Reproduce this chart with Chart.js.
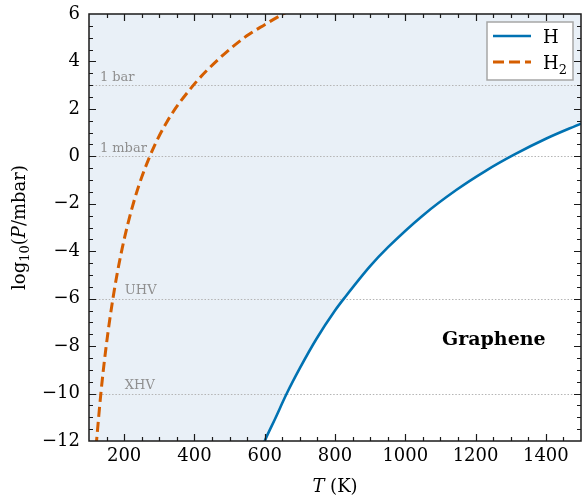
<!DOCTYPE html>
<html><head><meta charset="utf-8">
<script src="https://cdn.jsdelivr.net/npm/chart.js@4/dist/chart.umd.min.js"></script>
<style>html,body{margin:0;padding:0;background:#fff}#wrap{width:582px;height:496px}</style>
</head><body><div id="wrap"><canvas id="c" width="582" height="496"></canvas></div>
<script>
// ---- data ----
const hTemps  = [590, 600, 630, 662, 700, 747, 800, 828, 900, 951, 1050, 1145, 1230, 1311, 1400, 1500];
const hLogP   = [-12.38, -12, -11.05, -10.02, -8.93, -7.7, -6.5, -5.95, -4.63, -3.83, -2.49, -1.42, -0.6, 0.08, 0.74, 1.38];
const h2Temps = [120, 134, 148, 168, 194, 230, 273, 322, 396, 472, 549, 600, 652, 700];
const h2LogP  = [-12.24, -9.96, -8.11, -6, -3.91, -1.79, 0, 1.46, 2.98, 4.14, 5.08, 5.55, 6, 6.36];
const xMajorTicks = [200, 400, 600, 800, 1000, 1200, 1400];
const yMajorTicks = [-12, -10, -8, -6, -4, -2, 0, 2, 4, 6];
const refLevels = [3, 0, -6, -10];
const refLabels = ['1 bar', '1 mbar', 'UHV', 'XHV'];
const seriesNames = ['H', 'H2'];
const regionLabel = 'Graphene';
const xRange = [100, 1500];
const yRange = [-12, 6];

const FONT = "'DejaVu Serif', serif";
const BLUE = '#0072b2', ORANGE = '#d55e00', FILL = '#e9f0f7';
const refLabelX = [131, 131, 202, 202];   // label anchor (data x)

const pts = (xs, ys) => xs.map((x, i) => ({x: x, y: ys[i]}));

const decor = {
  id: 'decor',
  beforeDatasetsDraw(chart) {
    const {ctx, chartArea: a, scales: {x, y}} = chart;
    ctx.save();
    ctx.beginPath(); ctx.rect(a.left, a.top, a.right - a.left, a.bottom - a.top); ctx.clip();
    ctx.strokeStyle = '#b4b4b4'; ctx.lineWidth = 1.2; ctx.setLineDash([1.5, 1.8]);
    refLevels.forEach(v => {
      const py = Math.round(y.getPixelForValue(v)) + 0.5;
      ctx.beginPath(); ctx.moveTo(a.left, py); ctx.lineTo(a.right, py); ctx.stroke();
    });
    ctx.setLineDash([]);
    ctx.fillStyle = '#8f8f8f'; ctx.font = '13px ' + FONT; ctx.textAlign = 'left'; ctx.textBaseline = 'alphabetic';
    refLevels.forEach((v, i) => {
      ctx.fillText(refLabels[i], x.getPixelForValue(refLabelX[i]), y.getPixelForValue(v) - 4.5);
    });
    ctx.restore();
  },
  afterDatasetsDraw(chart) {
    const {ctx, chartArea: a, scales: {x, y}} = chart;
    ctx.save();
    ctx.fillStyle = '#000'; ctx.font = 'bold 19px ' + FONT; ctx.textAlign = 'center'; ctx.textBaseline = 'middle';
    ctx.fillText(regionLabel, x.getPixelForValue(1252), y.getPixelForValue(-7.75));
    ctx.strokeStyle = '#1a1a1a'; ctx.lineWidth = 1.5;
    ctx.strokeRect(a.left, a.top, a.right - a.left, a.bottom - a.top);
    ctx.lineWidth = 1.2;
    ctx.beginPath();
    for (let v = xRange[0] + 50; v < xRange[1]; v += 50) {
      const px = Math.round(x.getPixelForValue(v)) + 0.5;
      const L = (v % 200 === 0) ? 7 : 4;
      ctx.moveTo(px, a.bottom); ctx.lineTo(px, a.bottom - L);
      ctx.moveTo(px, a.top); ctx.lineTo(px, a.top + L);
    }
    for (let v = yRange[0] + 0.5; v < yRange[1]; v += 0.5) {
      const py = Math.round(y.getPixelForValue(v)) + 0.5;
      const L = (Math.abs(v % 2) < 1e-9) ? 7 : 4;
      ctx.moveTo(a.left, py); ctx.lineTo(a.left + L, py);
      ctx.moveTo(a.right, py); ctx.lineTo(a.right - L, py);
    }
    ctx.stroke();
    // legend
    const bx = a.right - 94, by = a.top + 8, bw = 86, bh = 58;
    ctx.fillStyle = '#fff'; ctx.fillRect(bx, by, bw, bh);
    ctx.strokeStyle = '#a6a6a6'; ctx.lineWidth = 1.5; ctx.strokeRect(bx, by, bw, bh);
    const entries = [{c: BLUE, w: 2.6, d: []}, {c: ORANGE, w: 3, d: [11, 5]}];
    entries.forEach((e, i) => {
      const ly = by + 14 + i * 26;
      ctx.strokeStyle = e.c; ctx.lineWidth = e.w; ctx.setLineDash(e.d);
      ctx.beginPath(); ctx.moveTo(bx + 6, ly); ctx.lineTo(bx + 44, ly); ctx.stroke();
      ctx.setLineDash([]);
      ctx.fillStyle = '#000'; ctx.textAlign = 'left'; ctx.textBaseline = 'alphabetic';
      ctx.font = '18px ' + FONT;
      const name = seriesNames[i];
      const base = name.replace(/\d+$/, ''), sub = name.slice(base.length);
      ctx.fillText(base, bx + 56, ly + 7);
      if (sub) {
        const w = ctx.measureText(base).width;
        ctx.font = '13px ' + FONT;
        ctx.fillText(sub, bx + 56 + w, ly + 12);
      }
    });
    ctx.restore();
  },
  afterDraw(chart) {
    const {ctx, chartArea: a} = chart;
    ctx.save();
    ctx.fillStyle = '#000'; ctx.textBaseline = 'alphabetic'; ctx.textAlign = 'left';
    const cx = (a.left + a.right) / 2;
    ctx.font = 'italic 18px ' + FONT; const wT = ctx.measureText('T').width;
    ctx.font = '18px ' + FONT; const wK = ctx.measureText(' (K)').width;
    let sx = cx - (wT + wK) / 2;
    ctx.font = 'italic 18px ' + FONT; ctx.fillText('T', sx, 492);
    ctx.font = '18px ' + FONT; ctx.fillText(' (K)', sx + wT, 492);
    const parts = [
      {t: 'log', f: '18px ' + FONT, dy: 0},
      {t: '10', f: '13px ' + FONT, dy: 4},
      {t: '(', f: '18px ' + FONT, dy: 0},
      {t: 'P', f: 'italic 18px ' + FONT, dy: 0},
      {t: '/mbar)', f: '18px ' + FONT, dy: 0}
    ];
    let tot = 0;
    parts.forEach(p => { ctx.font = p.f; p.w = ctx.measureText(p.t).width; tot += p.w; });
    ctx.translate(25, (a.top + a.bottom) / 2);
    ctx.rotate(-Math.PI / 2);
    let px = -tot / 2;
    parts.forEach(p => { ctx.font = p.f; ctx.fillText(p.t, px, p.dy); px += p.w; });
    ctx.restore();
  }
};

new Chart(document.getElementById('c').getContext('2d'), {
  type: 'line',
  data: {
    datasets: [
      {label: seriesNames[1], data: pts(h2Temps, h2LogP), borderColor: ORANGE, borderWidth: 3,
       borderDash: [10, 5], pointRadius: 0, fill: false, cubicInterpolationMode: 'monotone'},
      {label: seriesNames[0], data: pts(hTemps, hLogP), borderColor: BLUE, borderWidth: 2.6,
       pointRadius: 0, fill: 'end', backgroundColor: FILL, cubicInterpolationMode: 'monotone'},
      {label: 'region', data: [{x: xRange[0], y: yRange[0]}, {x: 602, y: yRange[0]}],
       borderColor: 'rgba(0,0,0,0)', borderWidth: 1, pointRadius: 0, fill: 'end', backgroundColor: FILL}
    ]
  },
  options: {
    responsive: false, animation: false, devicePixelRatio: 1,
    layout: {padding: {top: 14, right: 1, left: 0, bottom: 0}},
    plugins: {legend: {display: false}, tooltip: {enabled: false}, filler: {drawTime: 'beforeDatasetsDraw'}},
    scales: {
      x: {type: 'linear', min: xRange[0], max: xRange[1],
          grid: {display: false, drawTicks: false}, border: {display: false},
          ticks: {font: {family: FONT, size: 18}, color: '#000', padding: 5, maxRotation: 0, autoSkip: false,
                  callback: v => String(v)},
          afterBuildTicks: s => { s.ticks = xMajorTicks.map(v => ({value: v})); },
          afterFit: s => { s.height = 55; s.paddingLeft = 0; s.paddingRight = 0; }},
      y: {type: 'linear', min: yRange[0], max: yRange[1],
          grid: {display: false, drawTicks: false}, border: {display: false},
          ticks: {font: {family: FONT, size: 18}, color: '#000', padding: 9, autoSkip: false,
                  callback: v => v < 0 ? '\u2212' + Math.abs(v) : String(v)},
          afterBuildTicks: s => { s.ticks = yMajorTicks.map(v => ({value: v})); },
          afterFit: s => { s.width = 89; s.paddingTop = 0; s.paddingBottom = 0; }}
    }
  },
  plugins: [decor]
});
</script></body></html>
